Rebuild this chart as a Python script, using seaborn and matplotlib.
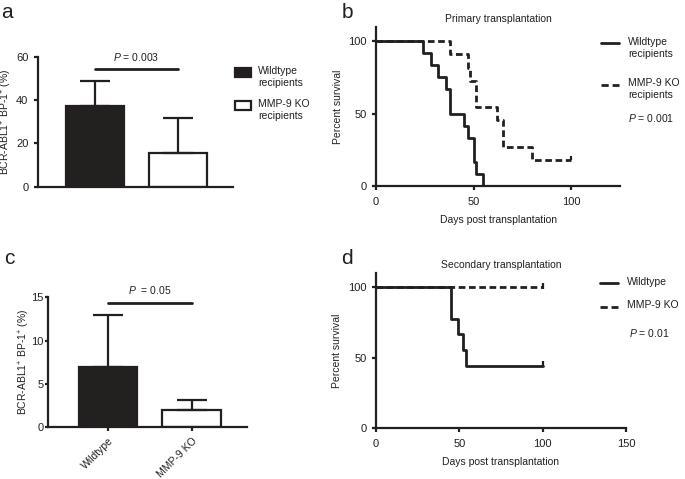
import numpy as np
import pandas as pd
import seaborn as sns
import matplotlib.pyplot as plt
from matplotlib.patches import Rectangle
from matplotlib.lines import Line2D

# ---- data ----
groups_a = ["Wildtype recipients", "MMP-9 KO recipients"]
mean_a = [37.2, 15.4]
sd_a = [11.5, 16.2]
pline_a = 54.2

groups_c = ["Wildtype", "MMP-9 KO"]
mean_c = [7.0, 2.0]
sd_c = [6.0, 1.1]
pline_c = 14.3

# primary transplantation (Kaplan-Meier steps)
b_wt_days = [0, 24, 28, 32, 36, 38, 45, 47, 50, 51, 55]
b_wt_surv = [100, 91.7, 83.3, 75.0, 66.7, 50.0, 41.7, 33.3, 16.7, 8.3, 0]
b_ko_days = [0, 38, 47, 48, 51, 62, 65, 80, 100]
b_ko_surv = [100, 90.9, 81.8, 72.7, 54.5, 45.5, 27.3, 18.2, 18.2]

# secondary transplantation
d_wt_days = [0, 45, 49, 52, 54, 100]
d_wt_surv = [100, 77.8, 66.7, 55.6, 44.4, 44.4]
d_ko_days = [0, 100]
d_ko_surv = [100, 100]

INK = "#231f20"
FS = 7.5
sns.set_theme(style="ticks")
plt.rcParams["font.family"] = ["Liberation Sans", "DejaVu Sans"]
plt.rcParams["mathtext.fontset"] = "custom"
plt.rcParams["mathtext.rm"] = "Liberation Sans"
plt.rcParams["mathtext.it"] = "Liberation Sans:italic"
plt.rcParams.update({
    "font.size": FS, "axes.labelsize": FS, "xtick.labelsize": 8, "ytick.labelsize": 8,
    "axes.linewidth": 1.6, "xtick.major.width": 1.6, "ytick.major.width": 1.6,
    "xtick.major.size": 3, "ytick.major.size": 3,
    "text.color": INK, "axes.labelcolor": INK, "xtick.color": INK, "ytick.color": INK,
    "axes.edgecolor": INK,
})

W, H = 685, 479
fig = plt.figure(figsize=(W / 100, H / 100), dpi=100)


def fx(x):
    return x / W


def fy(y):
    return 1 - y / H


def px_axes(left, top, right, bottom):
    return fig.add_axes([fx(left), fy(bottom), (right - left) / W, (bottom - top) / H])


def style_axes(ax):
    sns.despine(ax=ax)
    ax.tick_params(axis="y", length=3, width=1.6, pad=3.5)
    ax.tick_params(axis="x", length=3, width=1.6, pad=4.5)


def legend_entry(x, y, text, kind):
    # key drawn at first-line height, text to its right
    if kind in ("black", "white"):
        fig.add_artist(Rectangle((fx(x), fy(y + 4.5)), 15.5 / W, 9 / H, transform=fig.transFigure,
                                 facecolor=INK if kind == "black" else "white",
                                 edgecolor=INK, lw=1.6))
        tx = x + 23
    else:
        ls = "-" if kind == "solid" else (0, (2.6, 1.4))
        fig.add_artist(Line2D([fx(x), fx(x + 18)], [fy(y), fy(y)], transform=fig.transFigure,
                              color=INK, lw=2, ls=ls))
        tx = x + 27
    fig.text(fx(tx), fy(y - 6.5), text, ha="left", va="top", fontsize=FS, linespacing=1.25)


def bar_panel(ax, groups, means, sds, pline, ptext, ptext_y, ylim, yticks, xlim):
    df = pd.DataFrame({"group": groups, "value": means})
    sns.barplot(data=df, x="group", y="value", ax=ax, width=0.7,
                palette=[INK, "white"], hue="group", legend=False,
                edgecolor=INK, linewidth=1.6, errorbar=None)
    ax.errorbar([0, 1], means, yerr=[np.zeros(2), sds], fmt="none",
                ecolor=INK, elinewidth=1.6, capsize=10.5, capthick=1.6)
    ax.plot([0, 1], [pline, pline], color=INK, lw=2)
    ax.text(0.5, ptext_y, ptext, ha="center", va="center", fontsize=FS)
    ax.set_ylim(*ylim)
    ax.set_yticks(yticks)
    ax.set_xlim(*xlim)
    ax.set_ylabel(r"BCR-ABL1$^{+}$ BP-1$^{+}$ (%)")
    ax.set_xlabel("")
    style_axes(ax)


def km_panel(ax, curves, xlim, xticks, title):
    for days, surv, ls in curves:
        sns.lineplot(x=days, y=surv, ax=ax, color=INK, lw=2, drawstyle="steps-post",
                     estimator=None, sort=False, linestyle=ls)
    ax.set_xlim(*xlim)
    ax.set_xticks(xticks)
    ax.set_ylim(0, 110)
    ax.set_yticks([0, 50, 100])
    ax.set_xlabel("Days post transplantation", labelpad=6)
    ax.set_ylabel("Percent survival")
    ax.set_title(title, fontsize=FS, pad=3.5)
    style_axes(ax)


DASH = (0, (2.4, 1.3))

# ---- a ----
ax_a = px_axes(37.5, 56.7, 233, 186.7)
bar_panel(ax_a, groups_a, mean_a, sd_a, pline_a, r"$\it{P}$ = 0.003", 60,
          (0, 60), [0, 20, 40, 60], (-0.69, 1.66))
ax_a.set_xticks([])
ax_a.yaxis.set_label_coords(-0.12, 0.5)
legend_entry(235, 72.5, "Wildtype\nrecipients", "black")
legend_entry(235, 105.5, "MMP-9 KO\nrecipients", "white")

# ---- c ----
ax_c = px_axes(48.3, 297.3, 247.3, 427.3)
bar_panel(ax_c, groups_c, mean_c, sd_c, pline_c, r"$\it{P}$  = 0.05", 15.85,
          (0, 15), [0, 5, 10, 15], (-0.71, 1.66))
ax_c.set_xticks([0, 1])
ax_c.set_xticklabels(groups_c, rotation=45, ha="right", rotation_mode="anchor", fontsize=FS)
ax_c.tick_params(axis="x", length=3, pad=3)
ax_c.tick_params(axis="y", length=2.5, pad=1)
ax_c.yaxis.set_label_coords(-0.08, 0.5)

# ---- b ----
ax_b = px_axes(376, 26.7, 620, 186.2)
km_panel(ax_b, [(b_wt_days, b_wt_surv, "-"), (b_ko_days, b_ko_surv, DASH)],
         (0, 125), [0, 50, 100], "Primary transplantation")
sns.scatterplot(x=[b_ko_days[-1]], y=[b_ko_surv[-1] + 1], ax=ax_b, marker="|", s=12,
                color=INK, linewidth=1.6, legend=False)
ax_b.set_xlim(0, 125)
ax_b.yaxis.set_label_coords(-0.137, 0.5)
legend_entry(601, 43.5, "Wildtype\nrecipients", "solid")
legend_entry(601, 85, "MMP-9 KO\nrecipients", "dashed")
fig.text(fx(628), fy(118), r"$\it{P}$ = 0.001", ha="left", va="center", fontsize=FS)

# ---- d ----
ax_d = px_axes(376, 273.3, 626, 428.3)
km_panel(ax_d, [(d_wt_days, d_wt_surv, "-"), (d_ko_days, d_ko_surv, DASH)],
         (0, 150), [0, 50, 100, 150], "Secondary transplantation")
sns.scatterplot(x=[d_wt_days[-1], d_ko_days[-1]], y=[d_wt_surv[-1] + 1, d_ko_surv[-1] + 1],
                ax=ax_d, marker="|", s=18, color=INK, linewidth=1.6, legend=False)
ax_d.set_xlim(0, 150)
ax_d.yaxis.set_label_coords(-0.134, 0.5)
legend_entry(600, 283.3, "Wildtype", "solid")
legend_entry(600, 306.7, "MMP-9 KO", "dashed")
fig.text(fx(629), fy(333), r"$\it{P}$ = 0.01", ha="left", va="center", fontsize=FS)

# ---- panel letters ----
for letter, x, y in [("a", 7, 12), ("b", 347, 12), ("c", 9, 258), ("d", 347, 258)]:
    fig.text(fx(x), fy(y), letter, fontsize=15, ha="center", va="center")

fig.savefig("out.png", dpi=100)
